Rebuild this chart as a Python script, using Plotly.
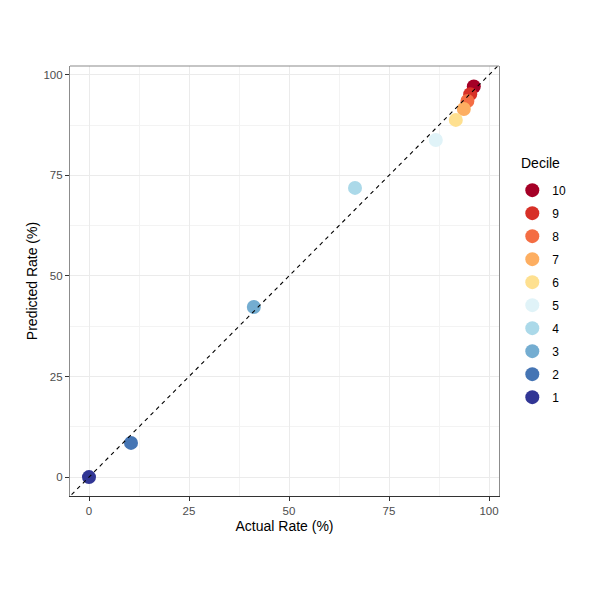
import plotly.graph_objects as go

# Decile calibration: actual vs predicted rate (%)
deciles = [1, 2, 3, 4, 5, 6, 7, 8, 9, 10]
actual_rate = [0.0, 10.5, 41.2, 66.5, 86.7, 91.7, 93.7, 94.6, 95.3, 96.2]
predicted_rate = [0.0, 8.5, 42.3, 71.9, 83.8, 88.8, 91.5, 93.5, 95.2, 97.1]
decile_colors = ['#313695', '#4575B4', '#74ADD1', '#ABD9E9', '#E0F3F8',
                 '#FEE090', '#FDAE61', '#F46D43', '#D73027', '#A50026']
tick_vals = [0, 25, 50, 75, 100]

fig = go.Figure()

# one trace per decile, added high to low so the legend reads 10 -> 1
for i in reversed(range(len(deciles))):
    fig.add_trace(go.Scatter(
        x=[actual_rate[i]], y=[predicted_rate[i]],
        mode='markers', name=str(deciles[i]),
        legendgroup=str(deciles[i]),
        marker=dict(color=decile_colors[i], size=14, line=dict(width=0)),
        hoverinfo='skip'
    ))

# perfect calibration reference line
fig.add_trace(go.Scatter(
    x=[-10, 110], y=[-10, 110], mode='lines', showlegend=False,
    line=dict(color='black', width=1.1, dash='4px,4px'), hoverinfo='skip'
))

fig.add_shape(type='line', xref='x domain', yref='y domain',
              x0=0, x1=1, y0=1, y1=1, line=dict(color='#8C8C8C', width=1.2))

# legend title placed as text so its gap to the keys matches
fig.add_annotation(text='Decile', xref='paper', yref='paper', x=1.047, y=0.774,
                   xanchor='left', yanchor='middle', showarrow=False,
                   font=dict(size=14, color='black'))

axis_style = dict(
    tickvals=tick_vals, ticks='outside', ticklen=4, tickcolor='#333333',
    tickfont=dict(size=11.5, color='#4D4D4D'),
    showgrid=True, gridcolor='#EBEBEB', gridwidth=1,
    minor=dict(dtick=12.5, tick0=0, showgrid=True, gridcolor='#F3F3F3', gridwidth=0.6),
    zeroline=False,
)

fig.update_xaxes(range=[-4.75, 102.5], showline=True, linecolor='#333333', linewidth=1.2,
                 title=dict(text='Actual Rate (%)', font=dict(size=14, color='black'), standoff=5),
                 **axis_style)
fig.update_yaxes(range=[-4.7, 102.2], showline=True, mirror=True, linecolor='#8C8C8C', linewidth=1.2,
                 title=dict(text='Predicted Rate (%)', font=dict(size=14, color='black'), standoff=2),
                 **axis_style)

fig.update_layout(
    width=596, height=596,
    margin=dict(l=62, r=105, t=58, b=108),
    plot_bgcolor='white', paper_bgcolor='white',
    font=dict(family='Liberation Sans, Arial, sans-serif'),
    legend=dict(
        font=dict(size=12, color='black'),
        x=1.031, xanchor='left', y=0.745, yanchor='top',
        tracegroupgap=4, bgcolor='rgba(0,0,0,0)'
    ),
    hovermode=False
)

fig.write_html("out.html")
